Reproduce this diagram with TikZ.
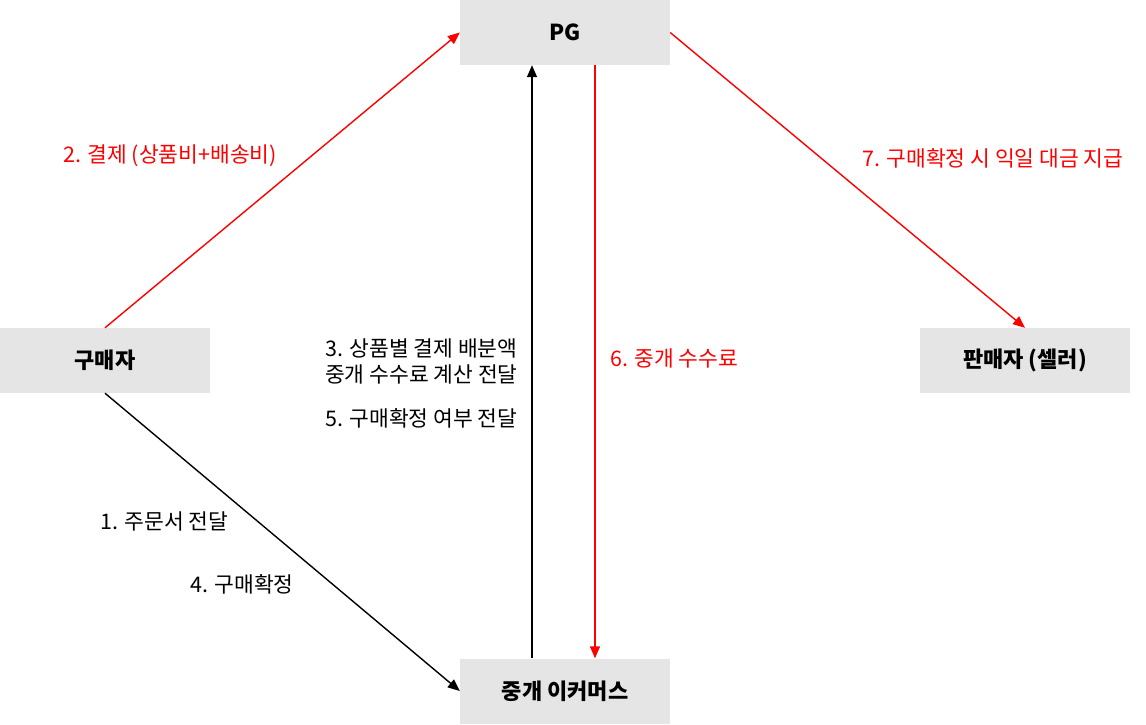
\documentclass[tikz,border=0pt]{standalone}
\usepackage{fontspec}
\setmainfont{Noto Sans CJK KR}
\usetikzlibrary{arrows.meta,positioning}
\tikzset{
  party/.style  = {fill=black!10, draw=none, minimum width=210pt, minimum height=65pt,
                   inner sep=0pt, font=\fontsize{22}{26}\selectfont\bfseries},
  msg/.style    = {-{Triangle[length=12pt,width=10pt]}, line width=1.4pt, black},
  money/.style  = {msg, red},
  lab/.style    = {font=\fontsize{21.5}{26}\selectfont, inner sep=0pt, anchor=west, align=left},
  redlab/.style = {lab, text=red},
}
\begin{document}
\begin{tikzpicture}[x=1pt,y=-1pt]
\useasboundingbox (0,0) rectangle (1146,724);
% parties
\node[party] (pg)     at (565,32.5)  {PG};
\node[party] (buyer)  at (105,360.5) {구매자};
\node[party] (seller) at (1025,360.5) {판매자 (셀러)};
\node[party] (market) at (565,691)   {중개 이커머스};
% flows
\draw[money] (buyer.north) -- (pg.west);
\draw[msg]   (buyer.south) -- (market.west);
\draw[msg]   ([xshift=-33pt]market.north) -- ([xshift=-33pt]pg.south);
\draw[money] ([xshift=30pt]pg.south) -- ([xshift=30pt]market.north);
\draw[money] (pg.east) -- (seller.north);
% labels
\node[redlab] (l2) at (63,156)  {2. 결제 (상품비+배송비)};
\node[lab]    (l3) at (325,361) {3. 상품별 결제 배분액\\중개 수수료 계산 전달};
\node[lab]    (l5) at (325,418) {5. 구매확정 여부 전달};
\node[redlab] (l6) at (610,358) {6. 중개 수수료};
\node[redlab] (l7) at (862,158) {7. 구매확정 시 익일 대금 지급};
\node[lab]    (l1) at (100,521) {1. 주문서 전달};
\node[lab]    (l4) at (190,584) {4. 구매확정};
\end{tikzpicture}
\end{document}
